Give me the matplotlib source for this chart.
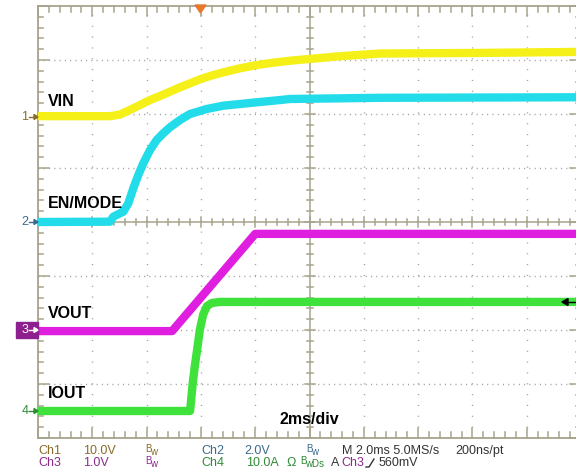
import matplotlib
matplotlib.use("Agg")
import matplotlib.pyplot as plt
from matplotlib.patches import Rectangle, Polygon

plt.rcParams['font.family'] = ['Liberation Sans', 'DejaVu Sans']

# ---- data (in screen divisions: x 0..10, y 0..8) ----
vin_x = [0.0, 0.96, 1.33, 1.51, 1.69, 1.878, 2.063, 2.247, 2.431, 2.615, 2.799, 2.983,
         3.168, 3.413, 3.720, 4.028, 4.333, 4.641, 5.56, 6.3, 8.0, 10.0]
vin_y = [5.96, 5.96, 5.96, 5.99, 6.074, 6.167, 6.259, 6.333, 6.413, 6.494, 6.568, 6.642,
         6.704, 6.772, 6.846, 6.907, 6.950, 6.987, 7.07, 7.12, 7.13, 7.15]

en_x = [0.0, 1.326, 1.387, 1.510, 1.571, 1.663, 1.755, 1.847, 1.939, 2.063, 2.186, 2.308,
        2.431, 2.615, 2.799, 3.107, 3.413, 3.720, 4.028, 4.333, 4.641, 6.30, 10.0]
en_y = [4.0, 4.006, 4.098, 4.161, 4.191, 4.346, 4.624, 4.870, 5.087, 5.333, 5.519, 5.643,
        5.754, 5.889, 6.000, 6.093, 6.154, 6.185, 6.217, 6.246, 6.278, 6.30, 6.31]

vout_x = [0.0, 2.47, 4.00, 10.0]
vout_y = [1.98, 1.98, 3.78, 3.78]

iout_x = [0.0, 2.80, 2.82, 2.85, 2.89, 2.93, 2.98, 3.04, 3.11, 3.20, 3.35, 10.0]
iout_y = [0.50, 0.50, 0.70, 1.02, 1.35, 1.63, 2.00, 2.28, 2.44, 2.50, 2.52, 2.52]

trace_labels = ["VIN", "EN/MODE", "VOUT", "IOUT"]
label_pos = [(48, 101), (48, 203), (48, 314), (48, 394)]

W, H = 576, 472
fig = plt.figure(figsize=(W / 100, H / 100), dpi=100)
fig.patch.set_facecolor('white')

def fx(x):
    return x / W

def fy(y):
    return 1 - y / H

L, T, R, B = 38, 6, 581, 438
ax = fig.add_axes([fx(L), fy(B), (R - L) / W, (B - T) / H])
ax.set_xlim(0, 10)
ax.set_ylim(0, 8)
ax.axis('off')

frame_c = '#a8a38b'
grid_c = '#a0a0a0'
for i in range(1, 10):
    if i == 5:
        continue
    ax.plot([i, i], [0, 8], color=grid_c, lw=1.0, ls=(0, (0.8, 7.0)), zorder=1)
for j in range(1, 8):
    if j == 4:
        continue
    ax.plot([0, 10], [j, j], color=grid_c, lw=1.0, ls=(0, (0.8, 3.0)), zorder=1)

ax.plot([0, 10, 10, 0, 0], [0, 0, 8, 8, 0], color=frame_c, lw=1.3, clip_on=False, zorder=2)
ax.plot([0, 10], [4, 4], color=frame_c, lw=1.1, zorder=2)
ax.plot([5, 5], [0, 8], color=frame_c, lw=1.1, zorder=2)

dx = 1 / 54.3
dy = 1 / 54.0
for k in range(0, 51):
    x = k * 0.2
    major = (k % 5 == 0)
    ln = (10 if major else 6) * dy
    ax.plot([x, x], [8, 8 - ln], color=frame_c, lw=1.1, clip_on=False, zorder=2)
    ax.plot([x, x], [0, ln], color=frame_c, lw=1.1, clip_on=False, zorder=2)
    c = (5 if major else 3) * dy
    ax.plot([x, x], [4 - c, 4 + c], color=frame_c, lw=1.1, zorder=2)
for k in range(0, 41):
    y = k * 0.2
    major = (k % 5 == 0)
    ln = (11 if major else 5) * dx
    ax.plot([0, ln], [y, y], color=frame_c, lw=1.1, clip_on=False, zorder=2)
    ax.plot([10, 10 - ln], [y, y], color=frame_c, lw=1.1, clip_on=False, zorder=2)
    c = (5 if major else 3) * dx
    ax.plot([5 - c, 5 + c], [y, y], color=frame_c, lw=1.1, zorder=2)

lw = 6.0
kw = dict(lw=lw, solid_joinstyle='round', solid_capstyle='butt', zorder=3)
ax.plot(vin_x, vin_y, color='#f4f018', **kw)
ax.plot(en_x, en_y, color='#22dcea', **kw)
ax.plot(vout_x, vout_y, color='#e01ee0', **kw)
ax.plot(iout_x, iout_y, color='#3ee23a', **kw)

for t, (x, y) in zip(trace_labels, label_pos):
    fig.text(fx(x), fy(y), t, fontsize=11.5, fontweight='bold', color='black',
             ha='left', va='center')
fig.text(fx(280), fy(420), "2ms/div", fontsize=11.5, fontweight='bold', color='black',
         ha='left', va='center')

fig.patches.append(Polygon([[fx(195), fy(5)], [fx(206), fy(5)], [fx(200.5), fy(13)]],
                           closed=True, transform=fig.transFigure, color='#e8782c'))
fig.patches.append(Polygon([[fx(562), fy(302)], [fx(568), fy(298.5)], [fx(568), fy(305.5)]],
                           closed=True, transform=fig.transFigure, color='black'))
fig.add_artist(plt.Line2D([fx(566), fx(576)], [fy(302), fy(302)], color='black', lw=1))

c1, c2, c3, c4 = '#8a6a2a', '#3a6a8c', '#8c2a8c', '#2e8a36'
def ch_marker(num, y, col):
    fig.text(fx(25), fy(y), num, fontsize=9, color=col, ha='center', va='center')
    fig.add_artist(plt.Line2D([fx(29), fx(36)], [fy(y), fy(y)], color=col, lw=1))
    fig.patches.append(Polygon([[fx(38), fy(y)], [fx(34), fy(y - 2.5)], [fx(34), fy(y + 2.5)]],
                               closed=True, transform=fig.transFigure, color=col))
ch_marker("1", 117, c1)
ch_marker("2", 222, c2)
ch_marker("4", 411, c4)
fig.patches.append(Rectangle((fx(16), fy(338)), 22 / W, 16 / H, transform=fig.transFigure,
                             color='#8e1f8e', zorder=1))
fig.text(fx(25), fy(330), "3", fontsize=9, color='white', ha='center', va='center')
fig.add_artist(plt.Line2D([fx(29), fx(36)], [fy(330), fy(330)], color='white', lw=1))
fig.patches.append(Polygon([[fx(38), fy(330)], [fx(34), fy(327.5)], [fx(34), fy(332.5)]],
                           closed=True, transform=fig.transFigure, color='white'))

fs = 9
def t(x, y, s, col, size=fs):
    fig.text(fx(x), fy(y), s, fontsize=size, color=col, ha='left', va='center')
def bw(x, y, col, extra=""):
    fig.text(fx(x), fy(y - 2), "B", fontsize=7, color=col, ha='left', va='center')
    fig.text(fx(x + 5), fy(y + 1), "w" + extra, fontsize=7, color=col, ha='left', va='center')

r1, r2 = 451, 463
dark = '#333333'
t(38, r1, "Ch1", c1); t(83, r1, "10.0V", c1); bw(145, r1, c1)
t(201, r1, "Ch2", c2); t(244, r1, "2.0V", c2); bw(306, r1, c2)
t(342, r1, "M 2.0ms 5.0MS/s", dark); t(455, r1, "200ns/pt", dark)
t(38, r2, "Ch3", c3); t(83, r2, "1.0V", c3); bw(145, r2, c3)
t(201, r2, "Ch4", c4); t(246, r2, "10.0A", c4)
t(286, r2, "Ω", c4); bw(300, r2, c4, "Ds")
t(331, r2, "A", dark); t(341, r2, "Ch3", c3)
fig.add_artist(plt.Line2D([fx(366), fx(369), fx(374)], [fy(467), fy(467), fy(459)],
                          color=dark, lw=1))
t(379, r2, "560mV", dark)

fig.savefig("out.png", dpi=100, facecolor='white')
